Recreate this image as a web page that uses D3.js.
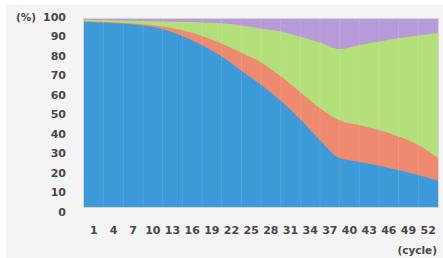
<!DOCTYPE html>
<html>
<head>
<meta charset="utf-8">
<script src="https://cdn.jsdelivr.net/npm/d3@7"></script>
<style>
  body { margin: 0; background: #fff; }
  text { font-family: "DejaVu Sans", sans-serif; font-weight: bold; fill: #484848; }
</style>
</head>
<body>
<div id="chart"></div>
<script>
var svgWidth = 443;
var svgHeight = 258;

// tick labels along the bottom (cycle numbers)
var cycleLabels = [1, 4, 7, 10, 13, 16, 19, 22, 25, 28, 31, 34, 37, 40, 43, 46, 49, 52];
var percentTicks = [0, 10, 20, 30, 40, 50, 60, 70, 80, 90, 100];

// sample positions (cycle) for the stacked boundaries
var cycles = [-0.5, 2.5, 5.5, 8.5, 11.5, 14.5, 17.5, 20.5, 23.5, 26.5, 29.5, 32.5, 35.5, 38.5, 41.5, 44.5, 47.5, 50.5, 53.5];

// cumulative tops of each layer (%)
var blueTop   = [98.5, 98, 97.5, 96.5, 94.5, 91, 86, 80, 72.5, 65, 56.5, 46.5, 35.5, 26, 24, 22, 19.5, 17, 14];
var redTop    = [98.8, 98.5, 98, 97.2, 96, 94, 91, 87, 82, 77, 69.5, 61, 52.5, 46, 43.5, 41, 37.5, 33, 26];
var greenTop  = [99.6, 99.4, 99.2, 99, 98.7, 98.5, 98.2, 97.7, 96.5, 95, 93.3, 90.5, 87.5, 84, 86, 88, 89.8, 91.2, 92.7];
var purpleTop = [100, 100, 100, 100, 100, 100, 100, 100, 100, 100, 100, 100, 100, 100, 100, 100, 100, 100, 100];

var layers = [
  { top: purpleTop, color: "#b99ad9" },
  { top: greenTop,  color: "#b3e07b" },
  { top: redTop,    color: "#ee8a70" },
  { top: blueTop,   color: "#3d9ad9" }
];

var plot = { left: 84, right: 438, top: 19, bottom: 207 };

var svg = d3.select("#chart")
  .append("svg")
  .attr("width", svgWidth)
  .attr("height", svgHeight);

// grey panel
svg.append("rect")
  .attr("x", 6)
  .attr("y", 5)
  .attr("width", svgWidth - 6)
  .attr("height", svgHeight - 5)
  .attr("fill", "#f4f4f4");

var xScale = d3.scaleLinear()
  .domain([-0.5, 53.5])
  .range([plot.left, plot.right]);

var yScale = d3.scaleLinear()
  .domain([0, 100])
  .range([plot.bottom, plot.top]);

// label scale is a little taller than the plot itself
var yLabel = d3.scaleLinear()
  .domain([0, 100])
  .range([212, 17]);

// areas, drawn back to front (each fills from 0 to its top)
var area = d3.area()
  .x((d, i) => xScale(cycles[i]))
  .y0(yScale(0))
  .y1(d => yScale(d))
  .curve(d3.curveMonotoneX);

svg.selectAll("path.layer")
  .data(layers)
  .enter()
  .append("path")
  .attr("class", "layer")
  .attr("d", d => area(d.top))
  .attr("fill", d => d.color);

// faint vertical grid lines between categories
var gridCycles = cycles.slice(1, -1);
svg.selectAll("line.grid")
  .data(gridCycles)
  .enter()
  .append("line")
  .attr("class", "grid")
  .attr("x1", d => xScale(d))
  .attr("x2", d => xScale(d))
  .attr("y1", plot.top)
  .attr("y2", plot.bottom)
  .attr("stroke", "#fff")
  .attr("stroke-opacity", 0.12)
  .attr("stroke-width", 1);

// plot border
svg.append("rect")
  .attr("x", plot.left - 0.5)
  .attr("y", plot.top - 0.5)
  .attr("width", plot.right - plot.left + 1)
  .attr("height", plot.bottom - plot.top + 1)
  .attr("fill", "none")
  .attr("stroke", "#d6d6d6")
  .attr("stroke-width", 1);

// y labels
svg.selectAll("text.ylab")
  .data(percentTicks)
  .enter()
  .append("text")
  .attr("class", "ylab")
  .attr("x", 66)
  .attr("y", d => yLabel(d))
  .attr("dy", "0.35em")
  .attr("text-anchor", "end")
  .attr("font-size", 11)
  .text(d => d);

svg.append("text")
  .attr("x", 16)
  .attr("y", yLabel(100))
  .attr("dy", "0.35em")
  .attr("font-size", 10.5)
  .text("(%)");

// x labels
svg.selectAll("text.xlab")
  .data(cycleLabels)
  .enter()
  .append("text")
  .attr("class", "xlab")
  .attr("x", d => xScale(d))
  .attr("y", 230)
  .attr("dy", "0.35em")
  .attr("text-anchor", "middle")
  .attr("font-size", 11)
  .text(d => d);

svg.append("text")
  .attr("x", 437)
  .attr("y", 250)
  .attr("dy", "0.35em")
  .attr("text-anchor", "end")
  .attr("font-size", 10.5)
  .text("(cycle)");
</script>
</body>
</html>
